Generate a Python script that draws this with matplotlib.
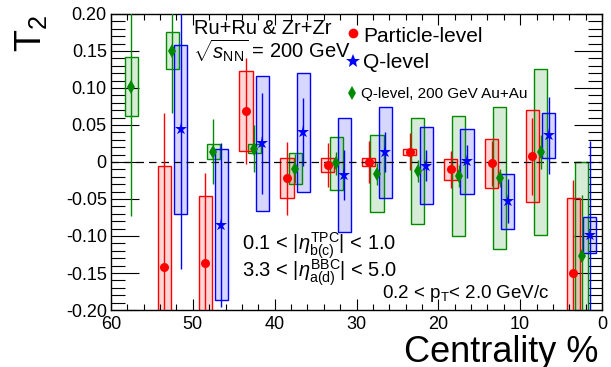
import matplotlib
matplotlib.use("Agg")
import matplotlib.pyplot as plt
import numpy as np

plt.rcParams['font.family'] = ['Liberation Sans', 'DejaVu Sans']
plt.rcParams['mathtext.fontset'] = 'custom'
plt.rcParams['mathtext.rm'] = 'Liberation Sans'
plt.rcParams['mathtext.it'] = 'Liberation Sans:italic'
plt.rcParams['mathtext.bf'] = 'Liberation Sans:bold'

# isobar, particle-level
red_x = [53.5, 48.5, 43.5, 38.5, 33.5, 28.5, 23.5, 18.5, 13.5, 8.5, 3.5]
red_y = [-0.142, -0.136, 0.069, -0.022, -0.004, 0.000, 0.014, -0.010, -0.002, 0.008, -0.150]
red_stat = [0.208, 0.121, 0.072, 0.049, 0.030, 0.028, 0.025, 0.025, 0.030, 0.052, 0.126]
red_sys = [0.136, 0.090, 0.054, 0.027, 0.010, 0.005, 0.004, 0.014, 0.033, 0.062, 0.101]

# isobar, Q-level
blue_x = [51.5, 46.5, 41.5, 36.5, 31.5, 26.5, 21.5, 16.5, 11.5, 6.5, 1.5]
blue_y = [0.044, -0.085, 0.025, 0.040, -0.018, 0.013, -0.005, 0.001, -0.053, 0.036, -0.099]
blue_stat = [0.188, 0.111, 0.068, 0.046, 0.034, 0.027, 0.021, 0.022, 0.030, 0.052, 0.127]
blue_sys = [0.114, 0.102, 0.091, 0.080, 0.077, 0.061, 0.052, 0.044, 0.037, 0.030, 0.024]

# Au+Au, Q-level
green_x = [57.5, 52.5, 47.5, 42.5, 37.5, 32.5, 27.5, 22.5, 17.5, 12.5, 7.5, 2.5]
green_y = [0.102, 0.150, 0.014, 0.018, -0.009, -0.002, -0.016, -0.012, -0.019, -0.022, 0.013, -0.127]
green_stat = [0.175, 0.084, 0.044, 0.032, 0.020, 0.015, 0.015, 0.015, 0.015, 0.012, 0.023, 0.083]
green_sys = [0.040, 0.025, 0.010, 0.006, 0.021, 0.036, 0.052, 0.072, 0.081, 0.096, 0.112, 0.127]

y_ticks = [-0.20, -0.15, -0.10, -0.05, 0.0, 0.05, 0.10, 0.15, 0.20]
y_ticklabels = ['-0.20', '-0.15', '-0.10', '-0.05', '0', '0.05', '0.10', '0.15', '0.20']
x_ticks = [0, 10, 20, 30, 40, 50, 60]

fig = plt.figure(figsize=(6.11, 3.67), dpi=100)
ax = fig.add_axes([0.1817, 0.1553, 0.8036, 0.8066])

series = [
    (green_x, green_y, green_stat, green_sys, '#008a00', 'd', 7.5),
    (red_x, red_y, red_stat, red_sys, '#ff0000', 'o', 6.5),
    (blue_x, blue_y, blue_stat, blue_sys, '#0000ff', '*', 9.5),
]
bw = 1.6
for x, y, st, sy, c, m, ms in series:
    x = np.array(x); y = np.array(y); sy = np.array(sy)
    ax.bar(x, 2 * sy, bottom=y - sy, width=bw, color=c, alpha=0.16, lw=0, zorder=1)
    ax.bar(x, 2 * sy, bottom=y - sy, width=bw, facecolor='none', edgecolor=c, lw=1.0, zorder=2)
for x, y, st, sy, c, m, ms in series:
    ax.errorbar(x, y, yerr=st, fmt='none', ecolor=c, elinewidth=1.0, capsize=0, zorder=3)
    ax.plot(x, y, ls='none', marker=m, color=c, ms=ms, mew=0, zorder=4)

ax.axhline(0, color='black', ls=(0, (6, 4)), lw=0.9, zorder=2.5)

ax.set_xlim(60, 0)
ax.set_ylim(-0.2, 0.2)
ax.set_xticks(x_ticks)
ax.set_xticks(np.arange(0, 61, 2), minor=True)
ax.set_yticks(y_ticks)
ax.set_yticks(np.arange(-0.2, 0.201, 0.01), minor=True)
ax.set_xticklabels([str(v) for v in x_ticks])
ax.set_yticklabels(y_ticklabels)
ax.tick_params(which='both', direction='in', top=True, right=True, labelsize=13, width=0.8)
ax.tick_params(axis='x', which='major', length=8, pad=4)
ax.tick_params(axis='x', which='minor', length=4)
ax.tick_params(axis='y', which='major', length=20, pad=3)
ax.tick_params(axis='y', which='minor', length=10)
for s in ax.spines.values():
    s.set_linewidth(1.0)

tr = ax.transAxes
ax.text(0.169, 0.932, 'Ru+Ru & Zr+Zr', transform=tr, fontsize=14.5, va='baseline')
ax.text(0.167, 0.851, r'$\sqrt{s_{\rm NN}}$ = 200 GeV', transform=tr, fontsize=14.5, va='baseline')
ax.text(0.267, 0.203, r'0.1 < |$\eta^{\rm TPC}_{\rm b(c)}$| < 1.0', transform=tr, fontsize=14.5, va='baseline')
ax.text(0.267, 0.111, r'3.3 < |$\eta^{\rm BBC}_{\rm a(d)}$| < 5.0', transform=tr, fontsize=14.5, va='baseline')
ax.text(0.552, 0.041, r'0.2 < p$_{\rm T}$< 2.0 GeV/c', transform=tr, fontsize=13.5, va='baseline')

# legend
ax.plot([0.493], [0.936], 'o', color='#ff0000', ms=7, mew=0, transform=tr, clip_on=False)
ax.text(0.513, 0.905, 'Particle-level', transform=tr, fontsize=15, va='baseline')
ax.plot([0.493], [0.841], '*', color='#0000ff', ms=10, mew=0, transform=tr, clip_on=False)
ax.text(0.513, 0.818, 'Q-level', transform=tr, fontsize=15, va='baseline')
ax.plot([0.491], [0.733], 'd', color='#008a00', ms=7.5, mew=0, transform=tr, clip_on=False)
ax.text(0.509, 0.716, 'Q-level, 200 GeV Au+Au', transform=tr, fontsize=11, va='baseline')

fig.text(0.979, 0.0136, 'Centrality %', ha='right', va='baseline', fontsize=26)
fig.text(0.05, 0.96, r'T$_{2}$', rotation=90, ha='center', va='top', fontsize=26)

fig.savefig('out.png', dpi=100)
